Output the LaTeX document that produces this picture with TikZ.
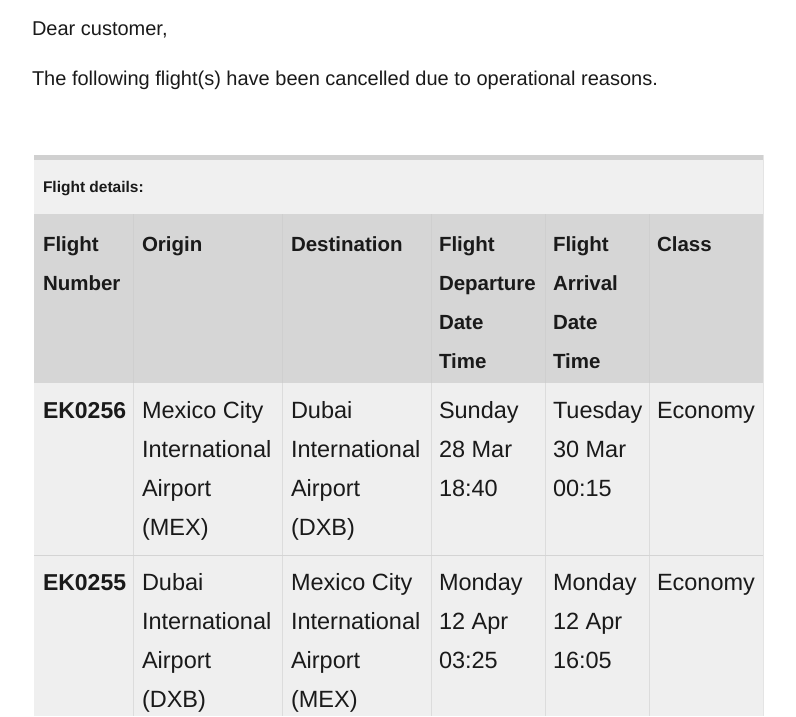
\documentclass[tikz,border=0pt]{standalone}
\usepackage{fontspec}
\setmainfont{Liberation Sans}
\definecolor{stripc}{HTML}{D0D0D0}
\definecolor{detc}{HTML}{F0F0F0}
\definecolor{hdrc}{HTML}{D6D6D6}
\definecolor{hdrl}{HTML}{CFCFCF}
\definecolor{cellc}{HTML}{EFEFEF}
\definecolor{celll}{HTML}{DCDCDC}
\definecolor{rowl}{HTML}{D4D4D4}
\definecolor{edgel}{HTML}{E4E4E4}
\definecolor{ink}{HTML}{1A1A1A}
\tikzset{
  base/.style={inner sep=0pt, outer sep=0pt, anchor=base west, text=ink},
  body/.style={base, font=\fontsize{20}{24}\selectfont},
  small/.style={base, font=\bfseries\fontsize{15.5}{19}\selectfont},
  hdr/.style={base, font=\bfseries\fontsize{20.5}{25}\selectfont},
  dat/.style={base, font=\fontsize{23.5}{28}\selectfont},
  datb/.style={base, font=\bfseries\fontsize{23}{28}\selectfont},
}
\newcommand\cellrows[5][dat]{%
  \foreach \t [count=\i] in {#5} {\node[#1] (#2-\i) at (#3, {#4+39*(\i-1)}) {\t};}}
\begin{document}
\begin{tikzpicture}[x=1pt,y=-1pt]
\useasboundingbox (0,0) rectangle (796,716);
\fill[white] (0,0) rectangle (796,716);
% text above the table
\node[body] (greet) at (32,35.5) {Dear customer,};
\node[body] (intro) at (32,85) {The following flight(s) have been cancelled due to operational reasons.};
% table backgrounds
\fill[stripc] (34,155) rectangle (763,160);
\fill[detc] (34,160) rectangle (763,214);
\fill[hdrc] (34,214) rectangle (763,383);
\fill[cellc] (34,383) rectangle (763,716);
% separators
\foreach \xx in {133,282,431,545,649} {
  \draw[hdrl, line width=1pt] (\xx,214) -- (\xx,383);
  \draw[celll, line width=1pt] (\xx,383) -- (\xx,716);
}
\draw[rowl, line width=1pt] (34,555.5) -- (763,555.5);
\draw[edgel, line width=1pt] (763.5,155) -- (763.5,716);
% details caption
\node[small] (details) at (43,192.5) {Flight details:};
% header
\cellrows[hdr]{h1}{43}{251.5}{Flight,Number}
\cellrows[hdr]{h2}{142}{251.5}{Origin}
\cellrows[hdr]{h3}{291}{251.5}{Destination}
\cellrows[hdr]{h4}{439}{251.5}{Flight,Departure,Date,Time}
\cellrows[hdr]{h5}{553}{251.5}{Flight,Arrival,Date,Time}
\cellrows[hdr]{h6}{657}{251.5}{Class}
% row 1
\cellrows[datb]{a1}{43}{418.5}{EK0256}
\cellrows{a2}{142}{418.5}{Mexico City,International,Airport,{(MEX)}}
\cellrows{a3}{291}{418.5}{Dubai,International,Airport,{(DXB)}}
\cellrows{a4}{439}{418.5}{Sunday,28 Mar,18:40}
\cellrows{a5}{553}{418.5}{Tuesday,30 Mar,00:15}
\cellrows{a6}{657}{418.5}{Economy}
% row 2
\cellrows[datb]{b1}{43}{590.5}{EK0255}
\cellrows{b2}{142}{590.5}{Dubai,International,Airport,{(DXB)}}
\cellrows{b3}{291}{590.5}{Mexico City,International,Airport,{(MEX)}}
\cellrows{b4}{439}{590.5}{Monday,12 Apr,03:25}
\cellrows{b5}{553}{590.5}{Monday,12 Apr,16:05}
\cellrows{b6}{657}{590.5}{Economy}
\end{tikzpicture}
\end{document}
